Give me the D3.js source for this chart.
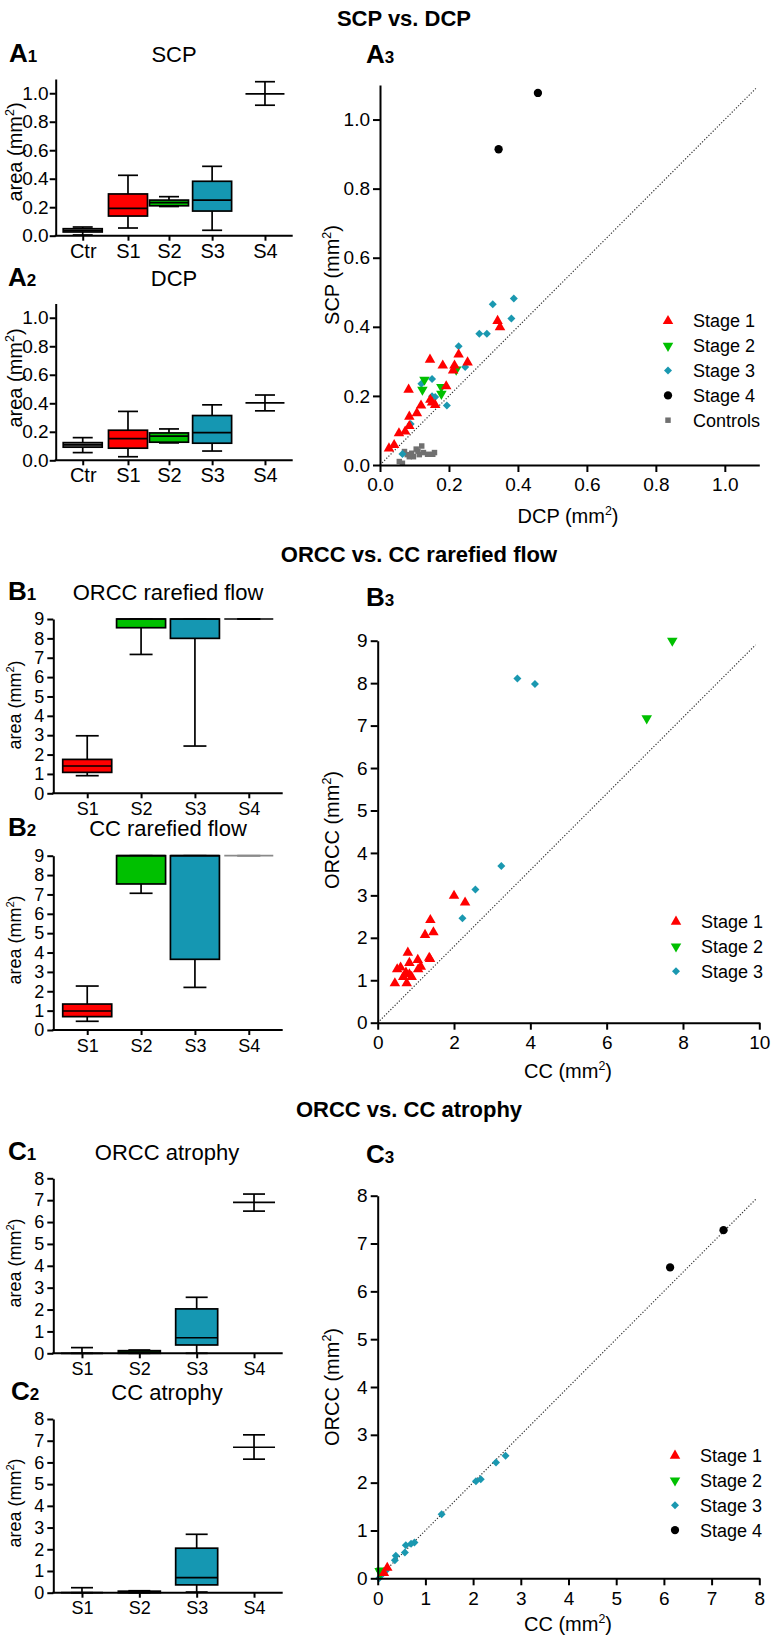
<!DOCTYPE html>
<html>
<head>
<meta charset="utf-8">
<script src="https://cdnjs.cloudflare.com/ajax/libs/d3/7.8.5/d3.min.js"></script>
<style>
    body { margin: 0; background: #fff; }
    svg text { font-family: 'Liberation Sans', Arial, Helvetica, sans-serif; fill: #000; }
    .axis path, .axis line { stroke: #000; stroke-width: 2; }
</style>
</head>
<body>
<script>

// ---------- data ----------
// box stats: [min, q1, median, q3, max]
var scpCats = ["Ctr", "S1", "S2", "S3", "S4"];
var scpBox = [
    [0.005, 0.026, 0.035, 0.049, 0.061],
    [0.054, 0.138, 0.192, 0.293, 0.424],
    [0.205, 0.210, 0.232, 0.250, 0.274],
    [0.038, 0.173, 0.250, 0.382, 0.487],
    [0.916, 0.995, 0.995, 0.995, 1.081]
];
var dcpBox = [
    [0.054, 0.092, 0.108, 0.124, 0.159],
    [0.025, 0.085, 0.152, 0.211, 0.343],
    [0.122, 0.127, 0.170, 0.192, 0.220],
    [0.065, 0.120, 0.194, 0.314, 0.389],
    [0.347, 0.403, 0.403, 0.403, 0.458]
];

var stageCats = ["S1", "S2", "S3", "S4"];
var orccRareBox = [
    [0.91, 1.08, 1.41, 1.75, 2.97],
    [7.17, 8.55, 9, 9, 9],
    [2.44, 8.00, 9, 9, 9],
    [9, 9, 9, 9, 9]
];
var ccRareBox = [
    [0.45, 0.69, 0.98, 1.34, 2.27],
    [7.06, 7.54, 9, 9, 9],
    [2.20, 3.65, 9, 9, 9],
    [9, 9, 9, 9, 9]
];
var orccAtrBox = [
    [0, 0, 0, 0, 0.26],
    [0, 0, 0.05, 0.12, 0.15],
    [0, 0.38, 0.71, 2.03, 2.56],
    [6.50, 6.90, 6.90, 6.90, 7.28]
];
var ccAtrBox = [
    [0, 0, 0, 0, 0.23],
    [0, 0, 0.03, 0.07, 0.09],
    [0.03, 0.36, 0.69, 2.05, 2.69],
    [6.15, 6.70, 6.70, 6.70, 7.27]
];

// scatter points: [x, y]
var scpStage1 = [[0.341,0.417],[0.348,0.399],[0.145,0.305],[0.228,0.320],[0.254,0.297],[0.182,0.288],
    [0.216,0.288],[0.212,0.274],[0.083,0.218],[0.192,0.228],[0.151,0.181],[0.160,0.174],[0.146,0.189],
    [0.119,0.172],[0.107,0.150],[0.085,0.140],[0.073,0.097],[0.085,0.113],[0.055,0.092],[0.041,0.058],[0.026,0.048]];
var scpStage2 = [[0.129,0.247],[0.123,0.218],[0.178,0.226],[0.178,0.206],[0.221,0.276]];
var scpStage3 = [[0.388,0.482],[0.327,0.465],[0.381,0.424],[0.288,0.380],[0.310,0.380],[0.228,0.344],
    [0.247,0.284],[0.151,0.249],[0.120,0.235],[0.151,0.199],[0.160,0.197],[0.194,0.172],[0.089,0.119],[0.065,0.032]];
var scpStage4 = [[0.458,1.077],[0.344,0.914]];
var scpControls = [[0.056,0.010],[0.065,0.005],[0.071,0.039],[0.079,0.030],[0.092,0.034],[0.105,0.046],
    [0.121,0.055],[0.114,0.030],[0.097,0.024],[0.126,0.036],[0.138,0.031],[0.158,0.036],[0.153,0.031],
    [0.110,0.040],[0.085,0.024]];

var rareStage1 = [[2.00,2.99],[2.29,2.83],[1.38,2.42],[1.46,2.13],[1.24,2.07],[0.79,1.65],[1.05,1.48],
    [1.35,1.53],[1.37,1.50],[0.83,1.41],[1.13,1.32],[1.06,1.26],[0.60,1.30],[0.51,1.26],[0.74,1.18],
    [0.83,1.14],[0.67,1.08],[0.89,1.08],[0.45,0.93],[0.76,0.93]];
var rareStage2 = [[7.72,9.00],[7.05,7.17]];
var rareStage3 = [[3.66,8.11],[4.12,7.98],[3.24,3.69],[2.56,3.14],[2.22,2.46]];

var atrStage1 = [[0.20,0.22],[0.13,0.11]];
var atrStage2 = [[0.04,0.15],[0.08,0.16],[0.06,0.12]];
var atrStage3 = [[2.68,2.56],[2.48,2.42],[2.16,2.07],[2.06,2.03],[1.34,1.34],[0.77,0.75],[0.70,0.72],
    [0.59,0.69],[0.57,0.54],[0.38,0.47],[0.36,0.38],[0.17,0.16],[0.03,0.00],[0.08,0.07]];
var atrStage4 = [[6.13,6.50],[7.25,7.28]];

// dotted reference lines, start / end in data units
var scpLine = [[0, 0], [1.09, 1.09]];
var rareLine = [[0, 0], [9.9, 8.9]];
var atrLine = [[0, 0], [7.93, 7.93]];

// ---------- drawing ----------
var svg = d3.select("body").append("svg").attr("width", 772).attr("height", 1636);

var boxFill = {Ctr: "#8a8a8a", S1: "#ff0000", S2: "#00c000", S3: "#1597b2", S4: "none"};
var stageColor = {s1: "#ff0000", s2: "#00c000", s3: "#1a98b0", s4: "#000000", ctr: "#707070"};

function mmText(sel, txt, size) {
    sel.text(txt + " (mm");
    sel.append("tspan").attr("dy", -0.4 * size).style("font-size", (0.62 * size) + "px").text("2");
    sel.append("tspan").attr("dy", 0.4 * size).text(")");
}

function yLabel(cx, cy, txt, size) {
    var t = svg.append("text")
        .attr("transform", "translate(" + cx + "," + cy + ") rotate(-90)")
        .attr("text-anchor", "middle")
        .attr("dy", "0.35em")
        .style("font-size", size + "px");
    mmText(t, txt, size);
}

function panelLetter(x, y, letter, num) {
    var t = svg.append("text").attr("x", x).attr("y", y)
        .style("font-weight", "bold").style("font-size", "26px").text(letter);
    t.append("tspan").style("font-size", "17px").text(num);
}

function mainTitle(cx, y, txt) {
    svg.append("text").attr("x", cx).attr("y", y).attr("text-anchor", "middle")
        .style("font-weight", "bold").style("font-size", "22px").text(txt);
}

function styleAxis(g, size) {
    g.attr("class", "axis").attr("font-family", null).attr("font-size", null);
    g.selectAll("text").style("font-size", size + "px").attr("fill", "#000");
}

function boxPanel(cfg) {
    var y = d3.scaleLinear().domain([0, cfg.yMax]).range([cfg.y0, cfg.yTop]);
    var x;
    if (cfg.frac) {
        x = d3.scaleOrdinal().domain(cfg.cats)
            .range(cfg.frac.map(function(f) { return cfg.x0 + f * (cfg.x1 - cfg.x0); }));
    } else {
        x = d3.scalePoint().domain(cfg.cats).range([cfg.x0, cfg.x1]).padding(cfg.pad);
    }

    var g = svg.append("g");

    g.selectAll("g.box")
        .data(cfg.stats)
        .enter()
        .append("g")
        .attr("class", "box")
        .each(function(s, i) {
            var cat = cfg.cats[i], cx = x(cat), b = d3.select(this);
            var lineCol = (cfg.s4Grey && cat === "S4") ? "#8a8a8a" : "#000";
            // whiskers
            b.append("line").attr("x1", cx).attr("x2", cx).attr("y1", y(s[4])).attr("y2", y(s[3]))
                .attr("stroke", "#000").attr("stroke-width", 1.7);
            b.append("line").attr("x1", cx).attr("x2", cx).attr("y1", y(s[1])).attr("y2", y(s[0]))
                .attr("stroke", "#000").attr("stroke-width", 1.7);
            [s[0], s[4]].forEach(function(v) {
                b.append("line").attr("x1", cx - cfg.capW / 2).attr("x2", cx + cfg.capW / 2)
                    .attr("y1", y(v)).attr("y2", y(v))
                    .attr("stroke", lineCol).attr("stroke-width", 1.7);
            });
            // box
            if (s[3] > s[1]) {
                b.append("rect").attr("x", cx - cfg.boxW / 2).attr("width", cfg.boxW)
                    .attr("y", y(s[3])).attr("height", y(s[1]) - y(s[3]))
                    .attr("fill", boxFill[cat]).attr("stroke", "#000").attr("stroke-width", 1.7);
            }
            // median
            b.append("line").attr("x1", cx - cfg.boxW / 2).attr("x2", cx + cfg.boxW / 2)
                .attr("y1", y(s[2])).attr("y2", y(s[2]))
                .attr("stroke", lineCol).attr("stroke-width", 1.7);
        });

    var ya = g.append("g").attr("transform", "translate(" + cfg.x0 + ",0)")
        .call(d3.axisLeft(y).tickValues(cfg.ticks).tickFormat(cfg.fmt)
            .tickSize(6).tickSizeOuter(0).tickPadding(cfg.yPad));
    styleAxis(ya, cfg.tickFont);

    var xa = g.append("g").attr("transform", "translate(0," + cfg.y0 + ")")
        .call(d3.axisBottom(x).tickSize(5).tickPadding(cfg.xPad));
    styleAxis(xa, cfg.catFont);
    xa.select(".domain").attr("d", "M" + (cfg.x0 - 1) + ",0H" + cfg.x1);

    svg.append("text").attr("x", cfg.titleX).attr("y", cfg.titleY).attr("text-anchor", "middle")
        .style("font-size", "22px").text(cfg.title);
    panelLetter(cfg.letterX, cfg.titleY, cfg.letter, cfg.num);
    yLabel(cfg.labelX, cfg.labelY, "area", cfg.labelFont);
}

var shapes = {
    up: d3.symbol(d3.symbolTriangle, 48)(),
    down: d3.symbol(d3.symbolTriangle, 48)(),
    diamond: d3.symbol(d3.symbolSquare, 32)(),
    circle: d3.symbol(d3.symbolCircle, 54)(),
    square: d3.symbol(d3.symbolSquare, 30)()
};
var shapeRot = {up: 0, down: 180, diamond: 45, circle: 0, square: 0};

function scatterPanel(cfg) {
    var x = d3.scaleLinear().domain([0, cfg.xMax]).range([cfg.x0, cfg.x1]);
    var y = d3.scaleLinear().domain([0, cfg.yMax]).range([cfg.y0, cfg.yTop]);
    var g = svg.append("g");

    g.append("line")
        .attr("x1", x(cfg.line[0][0])).attr("y1", y(cfg.line[0][1]))
        .attr("x2", x(cfg.line[1][0])).attr("y2", y(cfg.line[1][1]))
        .attr("stroke", "#333").attr("stroke-width", 1.2).attr("stroke-dasharray", "1.2,1.8");

    cfg.series.forEach(function(s) {
        g.selectAll(null)
            .data(s.data)
            .enter()
            .append("path")
            .attr("d", shapes[s.shape])
            .attr("transform", function(d) {
                return "translate(" + x(d[0]) + "," + y(d[1]) + ") rotate(" + shapeRot[s.shape] + ")";
            })
            .attr("fill", s.color);
    });

    var xa = g.append("g").attr("transform", "translate(0," + cfg.y0 + ")")
        .call(d3.axisBottom(x).tickValues(cfg.xTicks).tickFormat(cfg.fmt)
            .tickSize(7).tickSizeOuter(0).tickPadding(6));
    styleAxis(xa, 19);
    var ya = g.append("g").attr("transform", "translate(" + cfg.x0 + ",0)")
        .call(d3.axisLeft(y).tickValues(cfg.yTicks).tickFormat(cfg.fmt)
            .tickSize(7).tickSizeOuter(0).tickPadding(3));
    styleAxis(ya, 19);

    // legend
    var legend = g.selectAll("g.leg")
        .data(cfg.legendOrder)
        .enter()
        .append("g")
        .attr("transform", function(d, i) { return "translate(" + cfg.legX + "," + (cfg.legY + i * 24.8) + ")"; });
    legend.append("path")
        .attr("d", function(d) { return shapes[d.shape]; })
        .attr("transform", function(d) { return "rotate(" + shapeRot[d.shape] + ")"; })
        .attr("fill", function(d) { return d.color; });
    legend.append("text").attr("x", 25).attr("dy", "0.36em")
        .style("font-size", "18px").text(function(d) { return d.name; });

    panelLetter(366, cfg.letterY, cfg.letter, "3");
    yLabel(331.5, cfg.labelY, cfg.yName, 20);
    var xl = svg.append("text").attr("x", 568).attr("y", cfg.y0 + cfg.xLabelGap).attr("text-anchor", "middle")
        .style("font-size", "20px");
    mmText(xl, cfg.xName, 20);
}

var st1 = {name: "Stage 1", shape: "up", color: stageColor.s1};
var st2 = {name: "Stage 2", shape: "down", color: stageColor.s2};
var st3 = {name: "Stage 3", shape: "diamond", color: stageColor.s3};
var st4 = {name: "Stage 4", shape: "circle", color: stageColor.s4};
var stc = {name: "Controls", shape: "square", color: stageColor.ctr};

function withData(s, d) { return {name: s.name, shape: s.shape, color: s.color, data: d}; }

// ----- section A -----
mainTitle(404, 26, "SCP vs. DCP");
var fmt1 = d3.format(".1f");
var aTicks = [0, 0.2, 0.4, 0.6, 0.8, 1.0];
var aFrac = [0.114, 0.305, 0.478, 0.66, 0.883];

boxPanel({cats: scpCats, stats: scpBox, x0: 55.7, x1: 292.7, frac: aFrac, yMax: 1.1, y0: 235.7, yTop: 79,
    ticks: aTicks, fmt: fmt1, boxW: 39, capW: 20, tickFont: 19, catFont: 20, yPad: 1, xPad: 3,
    title: "SCP", titleX: 174, titleY: 62, letter: "A", num: "1", letterX: 9,
    labelX: 15, labelY: 152, labelFont: 20});
boxPanel({cats: scpCats, stats: dcpBox, x0: 55.7, x1: 292.7, frac: aFrac, yMax: 1.1, y0: 460.3, yTop: 303.5,
    ticks: aTicks, fmt: fmt1, boxW: 39, capW: 20, tickFont: 19, catFont: 20, yPad: 1, xPad: 3,
    title: "DCP", titleX: 174, titleY: 286, letter: "A", num: "2", letterX: 8,
    labelX: 15, labelY: 378, labelFont: 20});

scatterPanel({xMax: 1.1, yMax: 1.1, x0: 380, x1: 759.3, y0: 465, yTop: 85, fmt: fmt1,
    xTicks: aTicks, yTicks: aTicks, line: scpLine,
    series: [withData(stc, scpControls), withData(st4, scpStage4), withData(st3, scpStage3),
             withData(st2, scpStage2), withData(st1, scpStage1)],
    legendOrder: [st1, st2, st3, st4, stc], legX: 668, legY: 321,
    letter: "A", letterY: 63, labelY: 275, yName: "SCP", xName: "DCP", xLabelGap: 58});

// ----- section B -----
mainTitle(419, 562, "ORCC vs. CC rarefied flow");
var intFmt = d3.format("d");
var bTicks = d3.range(0, 10);

boxPanel({cats: stageCats, stats: orccRareBox, x0: 53.3, x1: 282.7, pad: 0.63, yMax: 9, y0: 793.3, yTop: 619,
    ticks: bTicks, fmt: intFmt, boxW: 49, capW: 23, tickFont: 18, catFont: 18, yPad: 3, xPad: 4,
    title: "ORCC rarefied flow", titleX: 168, titleY: 600, letter: "B", num: "1", letterX: 8,
    labelX: 15, labelY: 705, labelFont: 18});
boxPanel({cats: stageCats, stats: ccRareBox, x0: 53.3, x1: 282.7, pad: 0.63, yMax: 9, y0: 1030, yTop: 855.7,
    ticks: bTicks, fmt: intFmt, boxW: 49, capW: 23, tickFont: 18, catFont: 18, yPad: 3, xPad: 4, s4Grey: true,
    title: "CC rarefied flow", titleX: 168, titleY: 836, letter: "B", num: "2", letterX: 8,
    labelX: 15, labelY: 940, labelFont: 18});

scatterPanel({xMax: 10, yMax: 9, x0: 377.7, x1: 759.3, y0: 1022.7, yTop: 640.7, fmt: intFmt,
    xTicks: [0, 2, 4, 6, 8, 10], yTicks: bTicks, line: rareLine,
    series: [withData(st3, rareStage3), withData(st2, rareStage2), withData(st1, rareStage1)],
    legendOrder: [st1, st2, st3], legX: 676, legY: 921.7,
    letter: "B", letterY: 606, labelY: 830, yName: "ORCC", xName: "CC", xLabelGap: 55});

// ----- section C -----
mainTitle(409, 1117, "ORCC vs. CC atrophy");
var cTicks = d3.range(0, 9);

boxPanel({cats: stageCats, stats: orccAtrBox, x0: 53.3, x1: 282.7, pad: 0.5, yMax: 8, y0: 1353.3, yTop: 1178.3,
    ticks: cTicks, fmt: intFmt, boxW: 42, capW: 22, tickFont: 18, catFont: 18, yPad: 3, xPad: 4,
    title: "ORCC atrophy", titleX: 167, titleY: 1160, letter: "C", num: "1", letterX: 8,
    labelX: 15, labelY: 1263, labelFont: 18});
boxPanel({cats: stageCats, stats: ccAtrBox, x0: 53.3, x1: 282.7, pad: 0.5, yMax: 8, y0: 1592.7, yTop: 1419,
    ticks: cTicks, fmt: intFmt, boxW: 42, capW: 22, tickFont: 18, catFont: 18, yPad: 3, xPad: 4,
    title: "CC atrophy", titleX: 167, titleY: 1400, letter: "C", num: "2", letterX: 11,
    labelX: 15, labelY: 1503, labelFont: 18});

scatterPanel({xMax: 8, yMax: 8, x0: 377.7, x1: 759.3, y0: 1578.3, yTop: 1195.7, fmt: intFmt,
    xTicks: cTicks, yTicks: cTicks, line: atrLine,
    series: [withData(st4, atrStage4), withData(st3, atrStage3), withData(st2, atrStage2), withData(st1, atrStage1)],
    legendOrder: [st1, st2, st3, st4], legX: 675, legY: 1455.7,
    letter: "C", letterY: 1163, labelY: 1387, yName: "ORCC", xName: "CC", xLabelGap: 53});

</script>
</body>
</html>
